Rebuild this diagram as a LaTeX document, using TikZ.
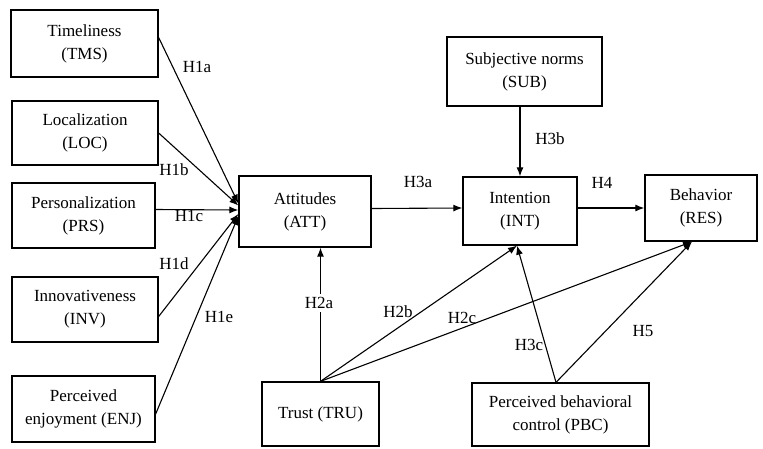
\documentclass[tikz,border=0pt]{standalone}
\usepackage{fontspec}
\setmainfont{Liberation Serif}
\usetikzlibrary{arrows.meta}
\begin{document}
\begin{tikzpicture}[x=1pt,y=-1pt,
  box/.style={draw, line width=1.3pt, align=center, inner sep=0pt, font=\fontsize{17}{23}\selectfont},
  conn/.style={line width=1.1pt, -{Latex[length=9pt,width=7pt]}},
  lbl/.style={font=\fontsize{17}{20}\selectfont, inner sep=1pt}]
\useasboundingbox (0,0) rectangle (763,448);
\node[box, minimum width=147pt, minimum height=67pt] (tms) at (84.5,43.5) {Timeliness\\(TMS)};
\node[box, minimum width=146pt, minimum height=64pt] (loc) at (85,133) {Localization\\(LOC)};
\node[box, minimum width=143pt, minimum height=65pt] (prs) at (83.5,215.5) {Personalization\\(PRS)};
\node[box, minimum width=146pt, minimum height=65pt] (inv) at (85,309.5) {Innovativeness\\(INV)};
\node[box, minimum width=143pt, minimum height=66pt] (enj) at (83.5,409) {Perceived\\enjoyment (ENJ)};
\node[box, minimum width=132pt, minimum height=71pt] (att) at (305,211.5) {Attitudes\\(ATT)};
\node[box, minimum width=114pt, minimum height=68pt] (int) at (520,211) {Intention\\(INT)};
\node[box, minimum width=155pt, minimum height=69pt] (sub) at (524.5,71.5) {Subjective norms\\(SUB)};
\node[box, minimum width=112pt, minimum height=66pt] (res) at (701,208) {Behavior\\(RES)};
\node[box, minimum width=117pt, minimum height=64pt] (tru) at (320.5,414) {Trust (TRU)};
\node[box, minimum width=177pt, minimum height=63pt] (pbc) at (560.5,414.5) {Perceived behavioral\\control (PBC)};

\draw[conn] ([yshift=6pt]tms.east) -- ([yshift=8pt]att.west);
\draw[conn] (loc.east) -- ([yshift=6pt]att.west);
\draw[conn] ([yshift=6pt]prs.east) -- ([yshift=1.5pt]att.west);
\draw[conn] ([yshift=-7pt]inv.east) -- ([yshift=-2.5pt]att.west);
\draw[conn] ([yshift=-5pt]enj.east) -- ([yshift=-4.5pt]att.west);
\draw[conn] ([yshift=3pt]att.east) -- ([yshift=3pt]int.west);
\draw[conn] (int.north |- sub.south) -- (int.north);
\draw[conn] ([yshift=3pt]int.east) -- (res.west);
\draw[conn] (tru.north) -- (tru.north |- att.south);
\draw[conn] (tru.north) -- ([xshift=-3pt]int.south);
\draw[conn] (tru.north) -- ([xshift=-9pt]res.south);
\draw[conn] ([xshift=-4.5pt]pbc.north) -- ([xshift=-3pt]int.south);
\draw[conn] ([xshift=-4.5pt]pbc.north) -- ([xshift=-9pt]res.south);

\node[lbl] (l1a) at (197,67) {H1a};
\node[lbl] (l1b) at (174,170) {H1b};
\node[lbl] (l1c) at (189,216) {H1c};
\node[lbl] (l1d) at (174,264) {H1d};
\node[lbl] (l1e) at (219,317) {H1e};
\node[lbl, fill=white, inner sep=3pt] (l2a) at (319,303) {H2a};
\node[lbl] (l2b) at (398,312) {H2b};
\node[lbl] (l2c) at (462,318) {H2c};
\node[lbl] (l3a) at (418,182) {H3a};
\node[lbl] (l3b) at (550,139) {H3b};
\node[lbl] (l4) at (602,183) {H4};
\node[lbl] (l3c) at (529,345) {H3c};
\node[lbl] (l5) at (643,331) {H5};
\end{tikzpicture}
\end{document}
